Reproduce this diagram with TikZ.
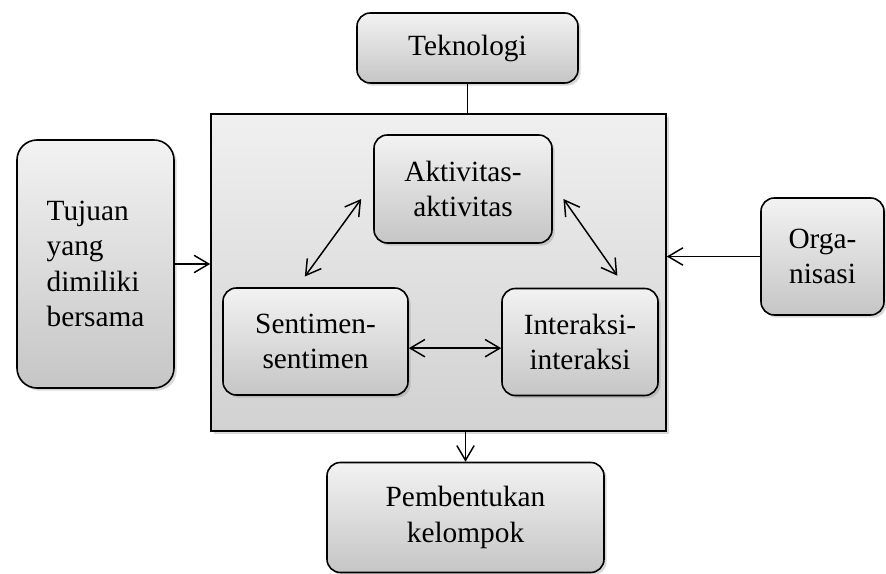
\documentclass[tikz,border=0pt]{standalone}
\usepackage{fontspec}
\setmainfont{Liberation Serif}
\usepackage{tikz}
\usetikzlibrary{arrows.meta}
\usetikzlibrary{shadows}
\tikzset{>={Straight Barb[length=11pt,width=13pt]}}
\tikzset{
  boks/.style={draw, line width=1.2pt, rounded corners=10pt,
    top color=gray!10, bottom color=gray!45,
    drop shadow={shadow xshift=2pt, shadow yshift=-2pt, opacity=0.3},
    font=\fontsize{22pt}{26.5pt}\selectfont, align=center, inner sep=0pt},
  wadah/.style={draw, line width=1.2pt, top color=gray!12, bottom color=gray!36,
    drop shadow={shadow xshift=2pt, shadow yshift=-2pt, opacity=0.3}},
  panah/.style={line width=1.1pt}
}

\begin{document}
\begin{tikzpicture}[x=0.75pt, y=-0.75pt]

  \useasboundingbox (0,0) rectangle (886,574);

  \node[wadah, minimum width=341.25pt, minimum height=237.75pt] (grp) at (438.5,272.5) {};

  \node[boks, minimum width=165.75pt, minimum height=52.5pt] (tek) at (467.5,48) {Teknologi};
  \node[boks, align=left, rounded corners=15pt, minimum width=117.75pt, minimum height=186pt] (tuj) at (95.5,264)
    {Tujuan\\yang\\dimiliki\\bersama};
  \node[boks, minimum width=92.25pt, minimum height=87.75pt] (org) at (822.5,256.5) {Orga-\\nisasi};
  \node[boks, minimum width=207.75pt, minimum height=82.5pt] (pem) at (465.5,517.5) {Pembentukan\\kelompok};

  \node[boks, minimum width=133.5pt, minimum height=81pt] (akt) at (463,189) {Aktivitas-\\aktivitas};
  \node[boks, minimum width=138.75pt, minimum height=80.25pt] (sen) at (315.5,341.5) {Sentimen-\\sentimen};
  \node[boks, minimum width=117pt, minimum height=80.25pt] (int) at (580,342) {Interaksi-\\interaksi};

  \draw[panah] (tek.south) -- (tek.south |- grp.north);
  \draw[panah,->] (tuj.east) -- (tuj.east -| grp.west);
  \draw[panah,->] (org.west) -- (org.west -| grp.east);
  \draw[panah,->] (grp.south -| pem.north) -- (pem.north);

  \draw[panah,<->] ([xshift=-8pt,yshift=8pt]sen.north) -- ([xshift=-9pt,yshift=-7.5pt]akt.west);
  \draw[panah,<->] ([xshift=8pt,yshift=-7.5pt]akt.east) -- ([xshift=28pt,yshift=9pt]int.north);
  \draw[panah,<->] ([yshift=-5pt]sen.east) -- ([yshift=-5pt]sen.east -| int.west);

\end{tikzpicture}
\end{document}
